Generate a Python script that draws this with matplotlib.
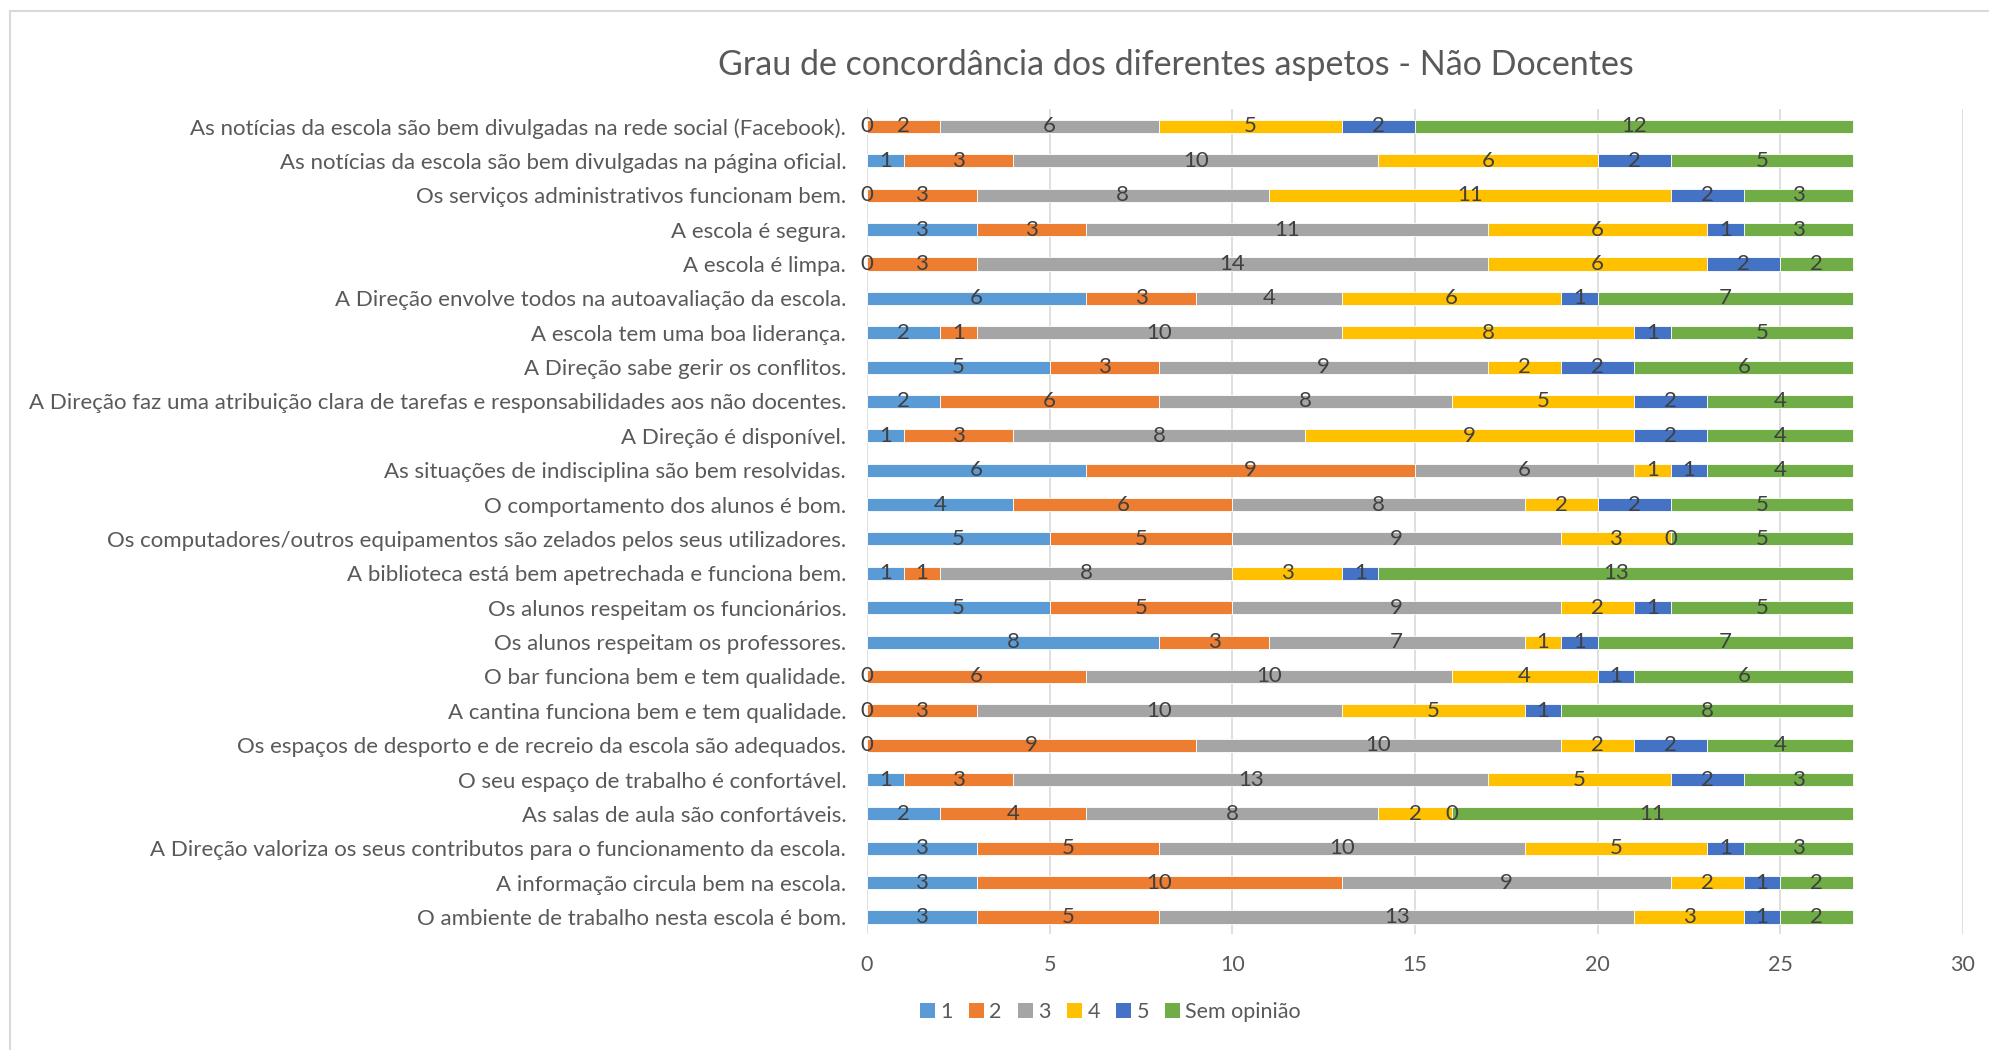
import matplotlib
matplotlib.use("Agg")
import matplotlib.pyplot as plt
import numpy as np
from matplotlib.patches import Patch
from matplotlib.lines import Line2D

plt.rcParams["font.family"] = ["Lato", "DejaVu Sans"]

TITLE = "Grau de concordância dos diferentes aspetos - Não Docentes"

CATEGORIES = [
    "As notícias da escola são bem divulgadas na rede social (Facebook).",
    "As notícias da escola são bem divulgadas na página oficial.",
    "Os serviços administrativos funcionam bem.",
    "A escola é segura.",
    "A escola é limpa.",
    "A Direção envolve todos na autoavaliação da escola.",
    "A escola tem uma boa liderança.",
    "A Direção sabe gerir os conflitos.",
    "A Direção faz uma atribuição clara de tarefas e responsabilidades aos não docentes.",
    "A Direção é disponível.",
    "As situações de indisciplina são bem resolvidas.",
    "O comportamento dos alunos é bom.",
    "Os computadores/outros equipamentos são zelados pelos seus utilizadores.",
    "A biblioteca está bem apetrechada e funciona bem.",
    "Os alunos respeitam os funcionários.",
    "Os alunos respeitam os professores.",
    "O bar funciona bem e tem qualidade.",
    "A cantina funciona bem e tem qualidade.",
    "Os espaços de desporto e de recreio da escola são adequados.",
    "O seu espaço de trabalho é confortável.",
    "As salas de aula são confortáveis.",
    "A Direção valoriza os seus contributos para o funcionamento da escola.",
    "A informação circula bem na escola.",
    "O ambiente de trabalho nesta escola é bom.",
]

SERIES = ["1", "2", "3", "4", "5", "Sem opinião"]

# counts per category (same order as CATEGORIES)
v1 = [0, 1, 0, 3, 0, 6, 2, 5, 2, 1, 6, 4, 5, 1, 5, 8, 0, 0, 0, 1, 2, 3, 3, 3]
v2 = [2, 3, 3, 3, 3, 3, 1, 3, 6, 3, 9, 6, 5, 1, 5, 3, 6, 3, 9, 3, 4, 5, 10, 5]
v3 = [6, 10, 8, 11, 14, 4, 10, 9, 8, 8, 6, 8, 9, 8, 9, 7, 10, 10, 10, 13, 8, 10, 9, 13]
v4 = [5, 6, 11, 6, 6, 6, 8, 2, 5, 9, 1, 2, 3, 3, 2, 1, 4, 5, 2, 5, 2, 5, 2, 3]
v5 = [2, 2, 2, 1, 2, 1, 1, 2, 2, 2, 1, 2, 0, 1, 1, 1, 1, 1, 2, 2, 0, 1, 1, 1]
v_sem = [12, 5, 3, 3, 2, 7, 5, 6, 4, 4, 4, 5, 5, 13, 5, 7, 6, 8, 4, 3, 11, 3, 2, 2]

X_TICKS = [0, 5, 10, 15, 20, 25, 30]

COLORS = ["#5B9BD5", "#ED7D31", "#A5A5A5", "#FFC000", "#4472C4", "#70AD47"]
TXT = "#595959"

fig = plt.figure(figsize=(19.9, 10.5), dpi=100)
ax = fig.add_axes([0.4357, 0.1103, 0.5507, 0.7856])

y = np.arange(len(CATEGORIES))
left = np.zeros(len(CATEGORIES))
for name, vals, col in zip(SERIES, [v1, v2, v3, v4, v5, v_sem], COLORS):
    vals = np.array(vals, dtype=float)
    bars = ax.barh(y, vals, left=left, height=0.38, color=col,
                   edgecolor="white", linewidth=0.6, zorder=3, label=name)
    ax.bar_label(bars, labels=[f"{int(v)}" for v in vals], label_type="center",
                 fontsize=16, color="#404040", zorder=4)
    left += vals

ax.set_ylim(len(CATEGORIES) - 0.5, -0.5)
ax.set_xlim(0, 30)
ax.set_xticks(X_TICKS)
ax.set_yticks(y)
ax.set_yticklabels(CATEGORIES, fontsize=16, color=TXT)
ax.tick_params(axis="x", labelsize=15.5, labelcolor=TXT, length=0, pad=15)
ax.tick_params(axis="y", length=0, pad=15)
ax.grid(axis="x", color="#D9D9D9", lw=1.2, zorder=0)
for s in ax.spines.values():
    s.set_visible(False)

fig.text(0.591, 0.938, TITLE, ha="center", va="center", fontsize=24.5, color=TXT)

handles = [Patch(facecolor=c, edgecolor="none") for c in COLORS]
fig.legend(handles, SERIES, loc="center", bbox_to_anchor=(0.558, 0.036),
           ncol=6, frameon=False, fontsize=15.5, labelcolor=TXT,
           handlelength=0.7, handleheight=0.7, handletextpad=0.25,
           columnspacing=0.75)

# chart-area border (only top/left visible in the crop)
fig.add_artist(Line2D([10 / 1990, 1.0], [1 - 11 / 1050] * 2,
                      transform=fig.transFigure, color="#D9D9D9", lw=1.5))
fig.add_artist(Line2D([10 / 1990] * 2, [0.0, 1 - 11 / 1050],
                      transform=fig.transFigure, color="#D9D9D9", lw=1.5))

fig.savefig("out.png", dpi=100)
